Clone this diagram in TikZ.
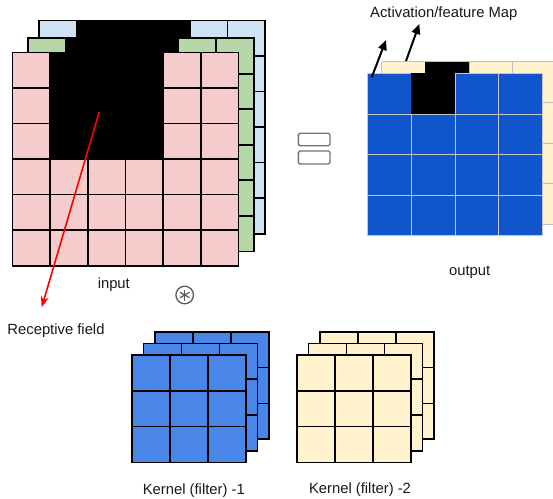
\documentclass[tikz,border=0pt]{standalone}
\usepackage{fontspec}
\setmainfont{Liberation Sans}
\usetikzlibrary{arrows.meta}
\definecolor{pinkc}{HTML}{F4CCCC}
\definecolor{greenc}{HTML}{B6D7A8}
\definecolor{bluec}{HTML}{CFE2F3}
\definecolor{outblue}{HTML}{1155CC}
\definecolor{kblue}{HTML}{4A86E8}
\definecolor{cream}{HTML}{FFF2CC}
\definecolor{symgray}{HTML}{5A5A5A}
% #1 x, #2 y, #3 cols, #4 rows, #5 cell w, #6 cell h, #7 fill, #8 line style
\newcommand{\gridlayer}[8]{%
  \fill[#7] (#1,#2) rectangle ++({#3*#5},{#4*#6});
  \foreach \k in {0,...,#3} \draw[#8] ({#1+\k*#5},#2) -- ++(0,{#4*#6});
  \foreach \k in {0,...,#4} \draw[#8] (#1,{#2+\k*#6}) -- ++({#3*#5},0);
}
% black cell block: #1 x, #2 y, #3 col0, #4 row0, #5 ncols, #6 nrows, #7 cw, #8 ch
\newcommand{\blackblock}[8]{%
  \fill[black] ({#1+#3*#7},{#2+#4*#8}) rectangle ++({#5*#7},{#6*#8});
}
\tikzset{
  gline/.style={black, line width=1.6bp, line cap=rect},
  oline/.style={color=white!55!gray, line width=0.6bp},
  yline/.style={color=black!25, line width=0.6bp},
  lbl/.style={font=\fontsize{14.8bp}{17bp}\selectfont, text=black!90, inner sep=0pt},
  redarrow/.style={red, line width=1.6bp, -{Stealth[length=11bp,width=8bp]}},
  blkarrow/.style={black, line width=2bp, -{Triangle[length=10bp,width=8.5bp]}},
  eqbox/.style={draw=black!55, line width=1.3bp, rounded corners=1.5bp, fill=white}
}
\begin{document}
\begin{tikzpicture}[x=1bp,y=-1bp]
\useasboundingbox (0,0) rectangle (553,499);
\clip (0,0) rectangle (553,499);
% ---------- input volume ----------
\gridlayer{39}{20.7}{6}{6}{37.7}{35.5}{bluec}{gline}
\blackblock{39}{20.7}{1}{0}{3}{3}{37.7}{35.5}
\gridlayer{27.7}{38.3}{6}{6}{37.7}{35.5}{greenc}{gline}
\blackblock{27.7}{38.3}{1}{0}{3}{3}{37.7}{35.5}
\gridlayer{12.3}{52.7}{6}{6}{37.7}{35.5}{pinkc}{gline}
\blackblock{12.3}{52.7}{1}{0}{3}{3}{37.7}{35.5}
% ---------- output volume ----------
\gridlayer{381.7}{61.7}{4}{4}{43.6}{40.6}{cream}{yline}
\blackblock{381.7}{61.7}{1}{0}{1}{1}{43.6}{40.6}
\gridlayer{367.3}{73.3}{4}{4}{43.75}{40.6}{outblue}{oline}
\blackblock{367.3}{73.3}{1}{0}{1}{1}{43.75}{40.6}
% ---------- kernels ----------
\gridlayer{155}{331.7}{3}{3}{38}{35.8}{kblue}{gline}
\gridlayer{143.3}{343.3}{3}{3}{38}{35.8}{kblue}{gline}
\gridlayer{131.7}{355}{3}{3}{38}{35.8}{kblue}{gline}
\gridlayer{320}{331.7}{3}{3}{38}{35.8}{cream}{gline}
\gridlayer{308.3}{343.3}{3}{3}{38}{35.8}{cream}{gline}
\gridlayer{296.7}{355}{3}{3}{38}{35.8}{cream}{gline}
% ---------- convolution symbol ----------
\node[circle, draw=symgray, line width=1.3bp, minimum size=17.6bp, inner sep=0pt] (conv) at (184.7,295) {};
\foreach \a in {90,30,150,210,270,330}
  \draw[symgray, line width=1.2bp] (conv.center) -- ++(\a:5.5bp);
% ---------- equals sign ----------
\node[eqbox, minimum width=31.7bp, minimum height=12.4bp, inner sep=0pt] (eqtop) at (314.2,139.5) {};
\node[eqbox, minimum width=31.7bp, minimum height=13bp, inner sep=0pt] (eqbot) at (314.2,157.5) {};
% ---------- arrows ----------
\coordinate (rfStart) at (99.3,111.7);
\coordinate (rfEnd) at (41.7,307.3);
\draw[redarrow] (rfStart) -- (rfEnd);
\coordinate (amStartA) at (371.7,77.3);
\coordinate (amEndA) at (386,40);
\coordinate (amStartB) at (406,61);
\coordinate (amEndB) at (419.3,24);
\draw[blkarrow] (amStartA) -- (amEndA);
\draw[blkarrow] (amStartB) -- (amEndB);
% ---------- labels ----------
\node[lbl] (input) at (113.8,284.5) {input};
\node[lbl] (output) at (469.7,272.5) {output};
\node[lbl] (amap) at (443.8,13.3) {Activation/feature Map};
\node[lbl] (recept) at (56,331) {Receptive field};
\node[lbl] (k1) at (193.8,490.3) {Kernel (filter) -1};
\node[lbl] (k2) at (360,489.8) {Kernel (filter) -2};
\end{tikzpicture}
\end{document}
